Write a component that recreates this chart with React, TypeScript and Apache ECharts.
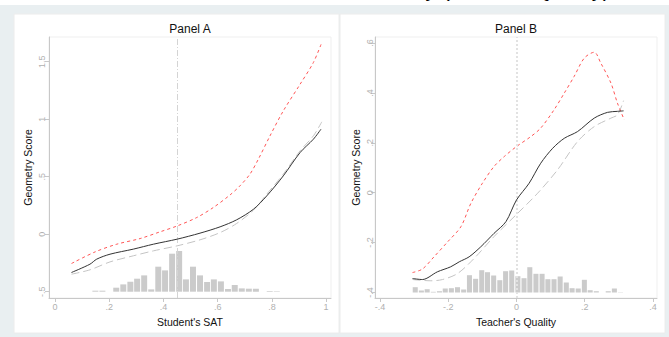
import React, { useEffect, useRef } from "react";
import * as echarts from "echarts";

// ---------- Panel A: Student's SAT ----------
const satUpper: [number, number][] = [
  [0.061, -0.255], [0.148, -0.154], [0.228, -0.087], [0.314, -0.038], [0.387, 0.02],
  [0.451, 0.072], [0.523, 0.145], [0.584, 0.232], [0.646, 0.342], [0.682, 0.42],
  [0.719, 0.522], [0.75, 0.652], [0.793, 0.855], [0.842, 1.072], [0.904, 1.304],
  [0.953, 1.493], [0.984, 1.667],
];
const satEstimate: [number, number][] = [
  [0.061, -0.333], [0.129, -0.261], [0.154, -0.217], [0.203, -0.174], [0.289, -0.13],
  [0.363, -0.087], [0.451, -0.043], [0.535, 0.009], [0.609, 0.064], [0.67, 0.125],
  [0.732, 0.217], [0.781, 0.333], [0.842, 0.507], [0.904, 0.71], [0.953, 0.826],
  [0.981, 0.913],
];
const satLower: [number, number][] = [
  [0.061, -0.348], [0.129, -0.31], [0.203, -0.241], [0.289, -0.188], [0.363, -0.145],
  [0.451, -0.101], [0.535, -0.049], [0.609, 0.014], [0.67, 0.093], [0.732, 0.209],
  [0.781, 0.348], [0.842, 0.522], [0.904, 0.725], [0.953, 0.855], [0.984, 0.977],
];
const satHistCenters = [
  0.149, 0.175, 0.201, 0.226, 0.252, 0.278, 0.303, 0.329, 0.355, 0.381, 0.406, 0.432,
  0.458, 0.483, 0.509, 0.535, 0.561, 0.586, 0.612, 0.638, 0.663, 0.689, 0.715, 0.741,
  0.766, 0.792, 0.818,
];
const satHistHeights = [
  1, 1, 0, 4, 7.3, 10, 13, 16.3, 2.3, 25, 21.3, 38, 40.7, 12.3, 25, 16.3, 9.7, 12.3,
  10.3, 2.7, 6.7, 3.3, 3, 3, 0, 0.7, 0.5,
];
const satBinWidth = 0.0257;
const satRef = 0.451;
const satTicksX = [0, 0.2, 0.4, 0.6, 0.8, 1];
const satTicksY = [-0.5, 0, 0.5, 1, 1.5];

// ---------- Panel B: Teacher's Quality ----------
const tqUpper: [number, number][] = [
  [-0.305, -0.32], [-0.276, -0.306], [-0.242, -0.257], [-0.202, -0.197], [-0.163, -0.136],
  [-0.134, -0.043], [-0.1, 0.038], [-0.066, 0.105], [-0.036, 0.145], [0, 0.185],
  [0.042, 0.225], [0.071, 0.259], [0.11, 0.332], [0.14, 0.399], [0.169, 0.466],
  [0.199, 0.54], [0.228, 0.563], [0.247, 0.52], [0.277, 0.439], [0.296, 0.359],
  [0.316, 0.292],
];
const tqEstimate: [number, number][] = [
  [-0.305, -0.344], [-0.276, -0.348], [-0.232, -0.317], [-0.193, -0.297], [-0.168, -0.277],
  [-0.139, -0.257], [-0.105, -0.217], [-0.066, -0.163], [-0.031, -0.116], [0, -0.029],
  [0.037, 0.038], [0.071, 0.118], [0.106, 0.178], [0.14, 0.218], [0.179, 0.245],
  [0.228, 0.299], [0.267, 0.322], [0.296, 0.326], [0.314, 0.328],
];
const tqLower: [number, number][] = [
  [-0.305, -0.348], [-0.251, -0.353], [-0.217, -0.348], [-0.173, -0.324], [-0.124, -0.263],
  [-0.066, -0.176], [0, -0.087], [0.062, -0.002], [0.12, 0.091], [0.179, 0.205],
  [0.228, 0.265], [0.277, 0.299], [0.296, 0.312], [0.314, 0.369],
];
const tqHistCenters = [
  -0.297, -0.279, -0.262, -0.244, -0.226, -0.209, -0.191, -0.173, -0.155, -0.138, -0.12,
  -0.102, -0.085, -0.067, -0.049, -0.032, -0.014, 0.004, 0.022, 0.039, 0.057, 0.075,
  0.092, 0.11, 0.128, 0.146, 0.163, 0.181, 0.199, 0.216, 0.234, 0.252, 0.269, 0.287,
  0.305,
];
const tqHistHeights = [
  5.3, 2, 3.3, 0.7, 1.3, 4, 4.3, 5.3, 3, 17.3, 13.7, 22.3, 20.3, 17, 12.3, 21.3, 22,
  16.3, 14.3, 25.3, 18.7, 18.7, 13.3, 13.3, 16, 10, 4.3, 4, 12.7, 2.3, 1.3, 0, 1.3, 4,
  0.3,
];
const tqBinWidth = 0.0177;
const tqRef = 0;
const tqTicksX = [-0.4, -0.2, 0, 0.2, 0.4];
const tqTicksY = [-0.4, -0.2, 0, 0.2, 0.4, 0.6];

const FONT = "Liberation Sans, Arial, sans-serif";
const AXIS_GREY = "#c8c8c8";
const LABEL_GREY = "#b0b0b0";

const fmt = (v: number) => {
  const s = String(Math.round(v * 100) / 100);
  return s.replace(/^(-?)0\./, "$1.");
};

function xAxisCfg(grid: number, min: number, max: number, ticks: number[]) {
  return {
    type: "value",
    gridIndex: grid,
    min,
    max,
    axisLine: { show: true, onZero: false, lineStyle: { color: AXIS_GREY, width: 1 } },
    axisTick: { show: true, length: 4, customValues: ticks, lineStyle: { color: AXIS_GREY } },
    axisLabel: {
      customValues: ticks,
      formatter: fmt,
      color: LABEL_GREY,
      fontSize: 9,
      fontFamily: FONT,
      margin: 4,
    },
    splitLine: { show: false },
  };
}

function yAxisCfg(grid: number, min: number, max: number, ticks: number[], margin: number) {
  return {
    type: "value",
    gridIndex: grid,
    min,
    max,
    axisLine: { show: true, onZero: false, lineStyle: { color: AXIS_GREY, width: 1 } },
    axisTick: { show: true, length: 4, customValues: ticks, lineStyle: { color: AXIS_GREY } },
    axisLabel: {
      customValues: ticks,
      formatter: fmt,
      color: LABEL_GREY,
      fontSize: 9,
      fontFamily: FONT,
      rotate: 90,
      margin,
    },
    splitLine: { show: false },
  };
}

function histSeries(xi: number, yi: number, centers: number[], heights: number[], w: number) {
  return {
    type: "custom",
    xAxisIndex: xi,
    yAxisIndex: yi,
    z: 1,
    silent: true,
    data: centers.map((c, i) => [c, heights[i]]),
    renderItem: (_p: any, api: any) => {
      const c = api.value(0);
      const h = api.value(1);
      if (!h) return null;
      const p0 = api.coord([c - w / 2, 0]);
      const p1 = api.coord([c + w / 2, h]);
      return {
        type: "rect",
        shape: { x: p0[0] + 0.5, y: p1[1], width: p1[0] - p0[0] - 1, height: p0[1] - p1[1] },
        style: { fill: "#cbcbcb" },
      };
    },
  };
}

function lineSeries(xi: number, yi: number, data: [number, number][], style: any, z: number, extra?: any) {
  return {
    type: "line",
    xAxisIndex: xi,
    yAxisIndex: yi,
    data,
    showSymbol: false,
    symbol: "none",
    smooth: 0.3,
    z,
    silent: true,
    lineStyle: style,
    ...(extra || {}),
  };
}

function refLine(x: number, style: any) {
  return {
    markLine: {
      silent: true,
      symbol: "none",
      label: { show: false },
      lineStyle: style,
      data: [{ xAxis: x }],
    },
  };
}

const redStyle = { color: "#ff5555", width: 1, type: [3, 3] };
const blackStyle = { color: "#333333", width: 1, type: "solid" };
const greyStyle = { color: "#c4c4c4", width: 1, type: [8, 4] };

export default function App() {
  const ref = useRef<HTMLDivElement>(null);
  useEffect(() => {
    if (!ref.current) return;
    const chart = echarts.init(ref.current, undefined, { renderer: "svg" });
    const option: any = {
      animation: false,
      textStyle: { fontFamily: FONT },
      graphic: [
        { type: "rect", z: -10, shape: { x: 0, y: 5, width: 669, height: 332 }, style: { fill: "#e9eff1" } },
        { type: "rect", z: -9, shape: { x: 14, y: 14, width: 325, height: 319 }, style: { fill: "#ffffff", stroke: "#ececec", lineWidth: 1 } },
        { type: "rect", z: -9, shape: { x: 340, y: 14, width: 325, height: 319 }, style: { fill: "#ffffff", stroke: "#ececec", lineWidth: 1 } },
        {
          type: "text", z: 5,
          style: { text: "Geometry (Teacher Quality)", x: 475, y: -1, font: `22px ${FONT}`, fill: "#000", textAlign: "center", textVerticalAlign: "bottom" },
        },
        { type: "text", z: 5, style: { text: "Panel A", x: 190, y: 29, font: `12px ${FONT}`, fill: "#111", textAlign: "center", textVerticalAlign: "middle" } },
        { type: "text", z: 5, style: { text: "Panel B", x: 516, y: 29, font: `12px ${FONT}`, fill: "#111", textAlign: "center", textVerticalAlign: "middle" } },
        { type: "text", z: 5, style: { text: "Student's SAT", x: 190, y: 322, font: `10.5px ${FONT}`, fill: "#111", textAlign: "center", textVerticalAlign: "middle" } },
        { type: "text", z: 5, style: { text: "Teacher's Quality", x: 516, y: 322, font: `10.5px ${FONT}`, fill: "#111", textAlign: "center", textVerticalAlign: "middle" } },
        { type: "text", z: 5, x: 28, y: 167.5, rotation: Math.PI / 2, style: { text: "Geometry Score", x: 0, y: 0, font: `10.5px ${FONT}`, fill: "#111", textAlign: "center", textVerticalAlign: "middle" } },
        { type: "text", z: 5, x: 356, y: 167.5, rotation: Math.PI / 2, style: { text: "Geometry Score", x: 0, y: 0, font: `10.5px ${FONT}`, fill: "#111", textAlign: "center", textVerticalAlign: "middle" } },
      ],
      grid: [
        { left: 49, top: 37, width: 282, height: 261, show: true, borderColor: "#efefef", borderWidth: 1, backgroundColor: "transparent" },
        { left: 375, top: 37, width: 282, height: 261, show: true, borderColor: "#efefef", borderWidth: 1, backgroundColor: "transparent" },
      ],
      xAxis: [
        xAxisCfg(0, -0.022, 1.018, satTicksX),
        xAxisCfg(1, -0.415, 0.412, tqTicksX),
      ],
      yAxis: [
        yAxisCfg(0, -0.555, 1.715, satTicksY, 3),
        yAxisCfg(1, -0.422, 0.624, tqTicksY, 1),
        { type: "value", gridIndex: 0, min: -6.32, max: 254.68, show: false },
        { type: "value", gridIndex: 1, min: -5.5, max: 255.5, show: false },
      ],
      series: [
        histSeries(0, 2, satHistCenters, satHistHeights, satBinWidth),
        histSeries(1, 3, tqHistCenters, tqHistHeights, tqBinWidth),
        lineSeries(0, 0, satLower, greyStyle, 3, refLine(satRef, { color: "#d4d4d4", width: 1, type: [6, 2, 1, 2] })),
        lineSeries(0, 0, satUpper, redStyle, 4),
        lineSeries(0, 0, satEstimate, blackStyle, 5),
        lineSeries(1, 1, tqLower, greyStyle, 3, refLine(tqRef, { color: "#e2e2e2", width: 2, type: [2, 2] })),
        lineSeries(1, 1, tqUpper, redStyle, 4),
        lineSeries(1, 1, tqEstimate, blackStyle, 5),
      ],
    };
    chart.setOption(option);
    return () => chart.dispose();
  }, []);
  return (
    <div
      ref={ref}
      style={{ position: "absolute", left: 0, top: 0, width: 669, height: 337, background: "#ffffff" }}
    />
  );
}
